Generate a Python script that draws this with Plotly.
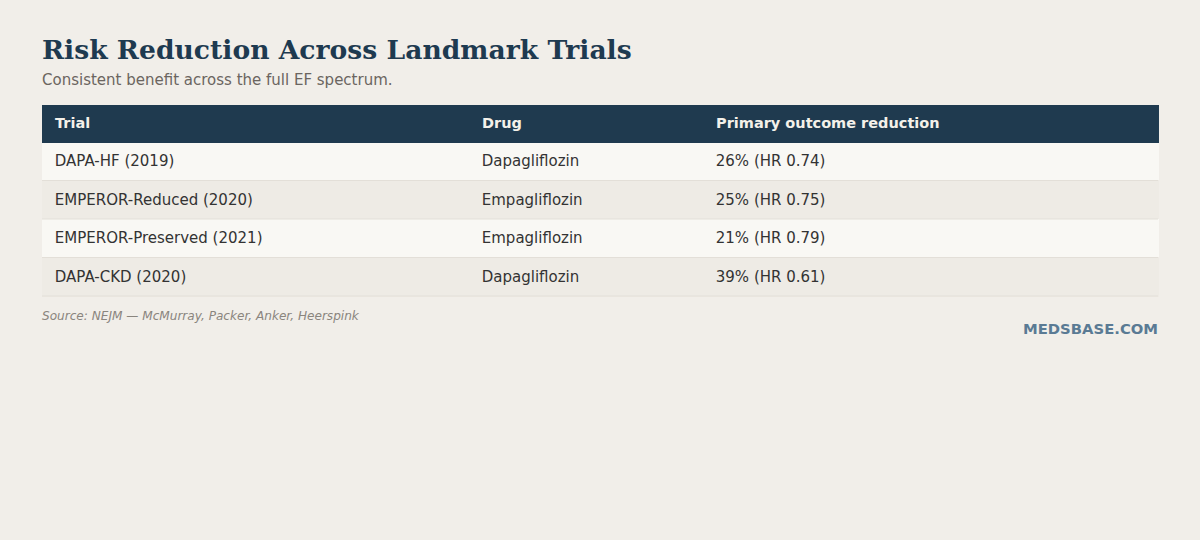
"""Risk reduction across landmark SGLT2 trials, drawn as a Plotly table."""

import plotly.graph_objects as go

# Table content
trials = ["DAPA-HF (2019)", "EMPEROR-Reduced (2020)", "EMPEROR-Preserved (2021)", "DAPA-CKD (2020)"]
drugs = ["Dapagliflozin", "Empagliflozin", "Empagliflozin", "Dapagliflozin"]
reductions = ["26% (HR 0.74)", "25% (HR 0.75)", "21% (HR 0.79)", "39% (HR 0.61)"]
headers = ["Trial", "Drug", "Primary outcome reduction"]

title = "Risk Reduction Across Landmark Trials"
subtitle = "Consistent benefit across the full EF spectrum."
source = "Source: NEJM — McMurray, Packer, Anker, Heerspink"
brand = "MEDSBASE.COM"

W, H = 1200, 540
BG = "#f1eee9"
NAVY = "#1f3a4f"
CLEAR = "rgba(0,0,0,0)"
PAD = "\u00a0"  # extra left padding inside cells
TOP = 105        # table top, px
HEAD_H = 37
ROW_H = 38.5
COL_W = [427, 234, 455]

n = len(trials)
row_fill = ["#f9f8f4" if i % 2 == 0 else "#eeebe5" for i in range(n)]
body_cols = [[PAD + v for v in col] for col in (trials, drugs, reductions)]


def domain(shift):
    # plotly tables pin text near the cell top, so the text layers are
    # nudged down a few pixels to sit centred like the reference
    return {"x": [42 / W, 1158 / W], "y": [0.1, 1 - (TOP + shift) / H]}


# base layer: header band and row stripes, no text
base = go.Table(
    domain=domain(0),
    columnwidth=COL_W,
    header={
        "values": [""] * 3,
        "fill": {"color": NAVY},
        "line": {"color": NAVY, "width": 1},
        "height": HEAD_H,
    },
    cells={
        "values": [[""] * n] * 3,
        "fill": {"color": [row_fill] * 3},
        "line": {"color": [row_fill] * 3, "width": 1},
        "height": ROW_H,
    },
)

# header labels
head_text = go.Table(
    domain=domain(2),
    columnwidth=COL_W,
    header={
        "values": [f"<b>{PAD}{h}</b>" for h in headers],
        "fill": {"color": CLEAR},
        "line": {"color": CLEAR, "width": 0},
        "font": {"family": "DejaVu Sans", "size": 14.5, "color": "#f4f1ea"},
        "align": "left",
        "height": HEAD_H,
    },
    cells={
        "values": [[] for _ in range(3)],
        "fill": {"color": CLEAR},
        "line": {"color": CLEAR, "width": 0},
    },
)

# body text
body_text = go.Table(
    domain=domain(5),
    columnwidth=COL_W,
    header={
        "values": [""] * 3,
        "fill": {"color": CLEAR},
        "line": {"color": CLEAR, "width": 0},
        "height": HEAD_H,
    },
    cells={
        "values": body_cols,
        "fill": {"color": CLEAR},
        "line": {"color": CLEAR, "width": 0},
        "font": {"family": "DejaVu Sans", "size": 15, "color": "#333333"},
        "align": "left",
        "height": ROW_H,
    },
)

fig = go.Figure(data=[base, head_text, body_text])

# faint horizontal rules under each body row
for i in range(n):
    y = 1 - (TOP + HEAD_H + (i + 1) * ROW_H) / H
    fig.add_shape(
        type="line", xref="paper", yref="paper", x0=42 / W, x1=1158 / W, y0=y, y1=y,
        line={"color": "#e3dfd8", "width": 1}, layer="above",
    )

fig.add_annotation(
    text=f"<b>{title}</b>", x=40 / W, y=1 - 50 / H, xref="paper", yref="paper",
    xanchor="left", yanchor="middle", showarrow=False,
    font={"family": "DejaVu Serif", "size": 26.6, "color": "#1e3a50"},
)
fig.add_annotation(
    text=subtitle, x=40 / W, y=1 - 80 / H, xref="paper", yref="paper",
    xanchor="left", yanchor="middle", showarrow=False,
    font={"family": "DejaVu Sans", "size": 15, "color": "#6b6560"},
)
fig.add_annotation(
    text=f"<i>{source}</i>", x=40 / W, y=1 - 316 / H, xref="paper", yref="paper",
    xanchor="left", yanchor="middle", showarrow=False,
    font={"family": "DejaVu Sans", "size": 12.1, "color": "#8a857e"},
)
fig.add_annotation(
    text=f"<b>{brand}</b>", x=1160 / W, y=1 - 328 / H, xref="paper", yref="paper",
    xanchor="right", yanchor="middle", showarrow=False,
    font={"family": "DejaVu Sans", "size": 14.8, "color": "#5a7a94"},
)

fig.update_layout(
    width=W,
    height=H,
    margin={"l": 0, "r": 0, "t": 0, "b": 0},
    paper_bgcolor=BG,
    plot_bgcolor=BG,
)

fig.write_html(
    "out.html",
    config={"displayModeBar": False},
    post_script="document.body.style.margin='0';",
)
